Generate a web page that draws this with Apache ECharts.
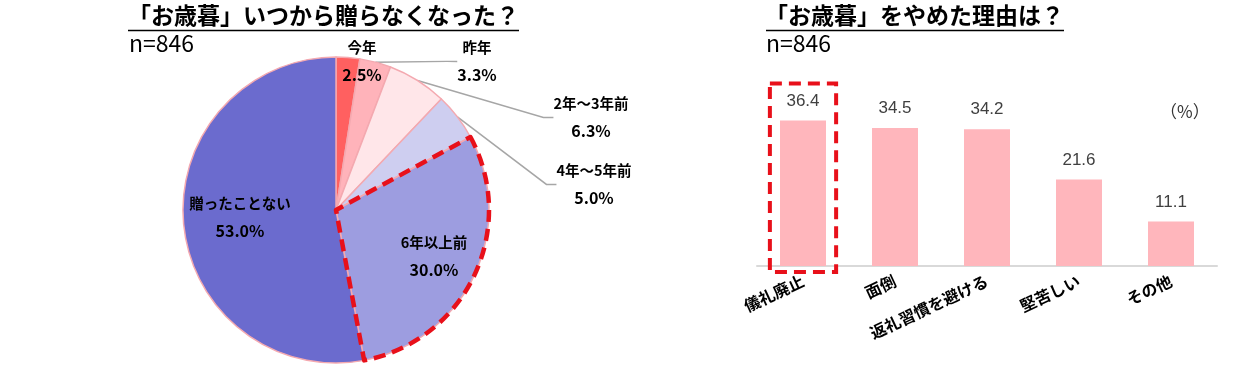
<!DOCTYPE html>
<html><head><meta charset="utf-8">
<script src="https://cdn.jsdelivr.net/npm/echarts@6/dist/echarts.min.js"></script>
<style>html,body{margin:0;padding:0;background:#fff}#c{width:1244px;height:386px}</style>
</head><body><div id="c"></div>
<script>
// ---- data ----
const pieTitle = '「お歳暮」いつから贈らなくなった？';
const barTitle = '「お歳暮」をやめた理由は？';
const sampleText = 'n=846';
const pieNames = ['今年', '昨年', '2年～3年前', '4年～5年前', '6年以上前', '贈ったことない'];
const pieValues = [2.5, 3.3, 6.3, 5.0, 30.0, 53.0];
const barCategories = ['儀礼廃止', '面倒', '返礼習慣を避ける', '堅苦しい', 'その他'];
const barValues = [36.4, 34.5, 34.2, 21.6, 11.1];
const unitText = '（%）';
const highlightPie = '6年以上前';
const highlightBar = '儀礼廃止';

// ---- styles / layout ----
const JP = '"Noto Sans CJK JP", "Noto Sans", sans-serif';
const pieColors = ['#FF6060', '#FFB3BA', '#FFE6E9', '#CECEF0', '#9D9DE0', '#6B6BCE'];
const pieLabelPos = [[362, 61], [477, 61], [591, 117], [594, 184], [434, 256], [240, 217]];
const outsideIdx = [1, 2, 3];
const pieCenter = [336, 210];
const pieRadius = 153;

const pieData = pieNames.map((n, i) => ({
  name: n, value: pieValues[i],
  itemStyle: { color: pieColors[i] },
  label: { position: outsideIdx.includes(i) ? 'outside' : 'inside' },
  labelLine: { show: outsideIdx.includes(i) }
}));
const pieOverlay = pieNames.map((n, i) => ({
  name: n, value: pieValues[i],
  itemStyle: n === highlightPie
    ? { color: 'rgba(0,0,0,0)', borderColor: '#E8101A', borderWidth: 4.5, borderType: [12, 7] }
    : { color: 'rgba(0,0,0,0)', borderWidth: 0 }
}));
const hiIdx = barCategories.indexOf(highlightBar);

const chart = echarts.init(document.getElementById('c'), null, { renderer: 'canvas' });
chart.setOption({
  animation: false,
  backgroundColor: '#fff',
  title: [
    { text: pieTitle, left: 128, top: 4, padding: 0, textStyle: { fontFamily: JP, fontSize: 23, fontWeight: 'bold', color: '#000' } },
    { text: sampleText, left: 129, top: 32, padding: 0, textStyle: { fontFamily: JP, fontSize: 23, fontWeight: 'normal', color: '#000' } },
    { text: barTitle, left: 765, top: 4, padding: 0, textStyle: { fontFamily: JP, fontSize: 23, fontWeight: 'bold', color: '#000' } },
    { text: sampleText, left: 766, top: 32, padding: 0, textStyle: { fontFamily: JP, fontSize: 23, fontWeight: 'normal', color: '#000' } },
    { text: unitText, left: 1160, top: 103, padding: 0, textStyle: { fontFamily: JP, fontSize: 17, fontWeight: 'normal', color: '#333' } }
  ],
  graphic: [
    { type: 'line', shape: { x1: 128, y1: 30.5, x2: 519, y2: 30.5 }, style: { stroke: '#000', lineWidth: 1.5 } },
    { type: 'line', shape: { x1: 766, y1: 30.5, x2: 1064, y2: 30.5 }, style: { stroke: '#000', lineWidth: 1.5 } }
  ],
  grid: { left: 757, right: 27, top: 106, bottom: 120 },
  xAxis: {
    type: 'category', data: barCategories,
    axisTick: { show: false },
    axisLine: { lineStyle: { color: '#D9D9D9', width: 2 } },
    axisLabel: { interval: 0, rotate: 25, margin: 14, fontFamily: JP, fontSize: 16, fontWeight: 'bold', color: '#000' }
  },
  yAxis: { type: 'value', min: 0, max: 40, show: false },
  series: [
    {
      type: 'pie', center: pieCenter, radius: pieRadius, startAngle: 90, clockwise: true,
      avoidLabelOverlap: false, silent: true,
      itemStyle: { borderColor: '#F4A9B0', borderWidth: 1.5 },
      label: {
        formatter: p => `{n|${p.name}}\n{v|${p.value.toFixed(1)}%}`,
        rich: {
          n: { fontFamily: JP, fontSize: 14.5, fontWeight: 'bold', color: '#000', lineHeight: 28 },
          v: { fontFamily: JP, fontSize: 16, fontWeight: 'bold', color: '#000', lineHeight: 28 }
        }
      },
      labelLine: { length: 10, length2: 10, lineStyle: { color: '#A6A6A6', width: 1.5 } },
      labelLayout: p => {
        const q = pieLabelPos[p.dataIndex];
        return { x: q[0], y: q[1], align: 'center', verticalAlign: 'middle' };
      },
      data: pieData
    },
    {
      type: 'pie', center: pieCenter, radius: pieRadius, startAngle: 90, clockwise: true,
      silent: true, label: { show: false }, labelLine: { show: false }, z: 5,
      emphasis: { disabled: true },
      data: pieOverlay
    },
    {
      type: 'bar', data: barValues, barWidth: '50%',
      itemStyle: { color: '#FFB6BC' },
      label: { show: true, position: 'top', distance: 11, fontFamily: '"Liberation Sans", Arial, sans-serif', fontSize: 17, color: '#404040' },
      silent: true
    },
    {
      type: 'custom', silent: true, z: 10, clip: false,
      data: [[hiIdx, barValues[hiIdx]]],
      renderItem: (params, api) => {
        const top = api.coord([api.value(0), api.value(1)]);
        const base = api.coord([api.value(0), 0]);
        const w = api.size([1, 0])[0];
        return {
          type: 'rect',
          shape: { x: top[0] - w * 0.36, y: top[1] - 37, width: w * 0.72, height: base[1] - top[1] + 43 },
          style: { fill: 'none', stroke: '#E8101A', lineWidth: 4, lineDash: [12, 7] }
        };
      }
    }
  ]
});
</script>
</body></html>
